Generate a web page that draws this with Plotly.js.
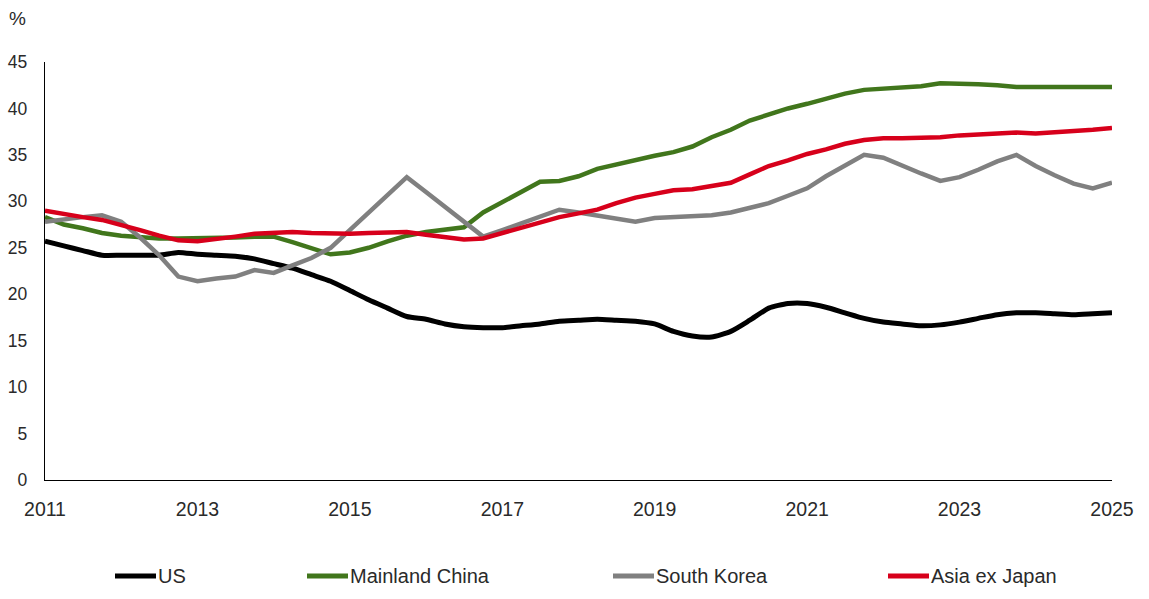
<!DOCTYPE html>
<html>
<head>
<meta charset="utf-8">
<script src="https://cdn.plot.ly/plotly-3.0.1.min.js"></script>
<style>
  html, body { margin: 0; padding: 0; background: #fff; }
  #chart { width: 1149px; height: 599px; }
</style>
</head>
<body>
<div id="chart"></div>
<script>
// Quarterly observations, Q1 2011 to Q1 2025 (%)
const quarters = [
  '2011-01-01','2011-04-01','2011-07-01','2011-10-01',
  '2012-01-01','2012-04-01','2012-07-01','2012-10-01',
  '2013-01-01','2013-04-01','2013-07-01','2013-10-01',
  '2014-01-01','2014-04-01','2014-07-01','2014-10-01',
  '2015-01-01','2015-04-01','2015-07-01','2015-10-01',
  '2016-01-01','2016-04-01','2016-07-01','2016-10-01',
  '2017-01-01','2017-04-01','2017-07-01','2017-10-01',
  '2018-01-01','2018-04-01','2018-07-01','2018-10-01',
  '2019-01-01','2019-04-01','2019-07-01','2019-10-01',
  '2020-01-01','2020-04-01','2020-07-01','2020-10-01',
  '2021-01-01','2021-04-01','2021-07-01','2021-10-01',
  '2022-01-01','2022-04-01','2022-07-01','2022-10-01',
  '2023-01-01','2023-04-01','2023-07-01','2023-10-01',
  '2024-01-01','2024-04-01','2024-07-01','2024-10-01',
  '2025-01-01'
];

const us = [
  25.7, 25.2, 24.7, 24.2, 24.2, 24.2, 24.2, 24.5, 24.3, 24.2, 24.1, 23.8,
  23.3, 22.8, 22.1, 21.4, 20.4, 19.4, 18.5, 17.6, 17.3, 16.8, 16.5, 16.4,
  16.4, 16.6, 16.8, 17.1, 17.2, 17.3, 17.2, 17.1, 16.8, 16.0, 15.5, 15.4,
  16.0, 17.2, 18.5, 19.0, 19.0, 18.6, 18.0, 17.4, 17.0, 16.8, 16.6, 16.7,
  17.0, 17.4, 17.8, 18.0, 18.0, 17.9, 17.8, 17.9, 18.0
];

const mainlandChina = [
  28.3, 27.5, 27.1, 26.6, 26.3, 26.1, 26.0, 26.0, 26.0, 26.0, 26.1, 26.2,
  26.2, 25.6, 24.9, 24.3, 24.5, 25.0, 25.7, 26.3, 26.7, 27.0, 27.2, 28.8,
  29.9, 31.0, 32.1, 32.2, 32.7, 33.5, 34.0, 34.5, 34.9, 35.3, 35.9, 36.9,
  37.7, 38.7, 39.4, 40.0, 40.5, 41.1, 41.6, 42.0, 42.1, 42.2, 42.4, 42.7,
  42.7, 42.6, 42.5, 42.3, 42.3, 42.3, 42.2, 42.2, 42.3
];

const southKorea = [
  27.8, 28.1, 28.3, 28.5, 27.8, 26.1, 24.2, 21.9, 21.4, 21.7, 21.9, 22.6,
  22.3, 23.1, 23.9, 25.0, 26.9, 28.8, 30.7, 32.6, 31.0, 29.4, 27.8, 26.2,
  26.9, 27.6, 28.4, 29.1, 28.8, 28.5, 28.1, 27.8, 28.2, 28.3, 28.5, 28.5,
  28.8, 29.3, 29.8, 30.6, 31.4, 32.7, 33.9, 35.0, 34.7, 33.8, 33.0, 32.2,
  32.6, 33.4, 34.3, 35.0, 33.8, 32.8, 31.9, 31.4, 32.0
];

const asiaExJapan = [
  29.0, 28.6, 28.3, 28.0, 27.5, 26.9, 26.3, 25.8, 25.7, 25.9, 26.2, 26.5,
  26.6, 26.7, 26.6, 26.5, 26.5, 26.6, 26.6, 26.7, 26.4, 26.1, 25.9, 26.0,
  26.6, 27.2, 27.8, 28.3, 28.7, 29.1, 29.8, 30.4, 30.8, 31.2, 31.3, 31.6,
  32.0, 32.9, 33.8, 34.4, 35.1, 35.6, 36.2, 36.6, 36.8, 36.8, 36.8, 36.9,
  37.1, 37.2, 37.4, 37.4, 37.3, 37.4, 37.6, 37.7, 37.9
];

const seriesNames  = ['US', 'Mainland China', 'South Korea', 'Asia ex Japan'];
const seriesValues = [us, mainlandChina, southKorea, asiaExJapan];
const seriesColors = ['#000000', '#41761c', '#808080', '#d7001b'];
const seriesWidths = [5, 4.5, 4.5, 4.5];
const seriesShapes = ['spline', 'linear', 'linear', 'linear'];

const yTicks = [0, 5, 10, 15, 20, 25, 30, 35, 40, 45];
const xTickYears = ['2011', '2013', '2015', '2017', '2019', '2021', '2023', '2025'];

const FONT = '"Liberation Sans", Arial, sans-serif';
const TEXT_COLOR = '#2a2a2a';
const W = 1149, H = 599;
const M = { l: 45, r: 37, t: 62, b: 119 };
const plotW = W - M.l - M.r, plotH = H - M.t - M.b;
const px2paperX = px => (px - M.l) / plotW;
const px2paperY = py => (H - M.b - py) / plotH;

const traces = seriesNames.map((name, i) => ({
  type: 'scatter',
  mode: 'lines',
  name: name,
  x: quarters,
  y: seriesValues[i],
  line: { color: seriesColors[i], width: seriesWidths[i], shape: seriesShapes[i], smoothing: 0.6 },
  showlegend: false,
  hoverinfo: 'x+y+name'
}));

// Hand-placed legend row beneath the plot
const legendStartPx = [115, 307, 613, 888];
const legendY = px2paperY(576);
const shapes = [];
const annotations = [];
seriesNames.forEach((name, i) => {
  shapes.push({
    type: 'line', xref: 'paper', yref: 'paper',
    x0: px2paperX(legendStartPx[i]), x1: px2paperX(legendStartPx[i] + 41),
    y0: legendY, y1: legendY,
    line: { color: seriesColors[i], width: 5 }
  });
  annotations.push({
    xref: 'paper', yref: 'paper',
    x: px2paperX(legendStartPx[i] + 41), y: legendY,
    xanchor: 'left', yanchor: 'middle',
    text: name, showarrow: false,
    font: { family: FONT, size: 20, color: TEXT_COLOR }
  });
});

annotations.push({
  xref: 'paper', yref: 'paper',
  x: px2paperX(7), y: px2paperY(19),
  xanchor: 'left', yanchor: 'middle',
  text: '%', showarrow: false,
  font: { family: FONT, size: 19, color: TEXT_COLOR }
});

const layout = {
  width: W, height: H,
  margin: M,
  paper_bgcolor: '#ffffff',
  plot_bgcolor: '#ffffff',
  showlegend: false,
  font: { family: FONT, color: TEXT_COLOR },
  xaxis: {
    type: 'date',
    range: ['2011-01-01', '2025-01-01'],
    tickvals: xTickYears.map(y => y + '-01-01'),
    ticktext: xTickYears,
    showgrid: false, zeroline: false,
    showline: true, linecolor: '#000', linewidth: 1.2,
    ticks: '', ticklabelstandoff: 11,
    tickfont: { family: FONT, size: 19.5, color: TEXT_COLOR }
  },
  yaxis: {
    range: [0, 45],
    tickvals: yTicks,
    showgrid: false, zeroline: false,
    showline: true, linecolor: '#000', linewidth: 1.2,
    ticks: '', ticklabelstandoff: 13,
    tickfont: { family: FONT, size: 17.5, color: TEXT_COLOR }
  },
  shapes: shapes,
  annotations: annotations
};

Plotly.newPlot('chart', traces, layout, { displayModeBar: false, staticPlot: true });
</script>
</body>
</html>
